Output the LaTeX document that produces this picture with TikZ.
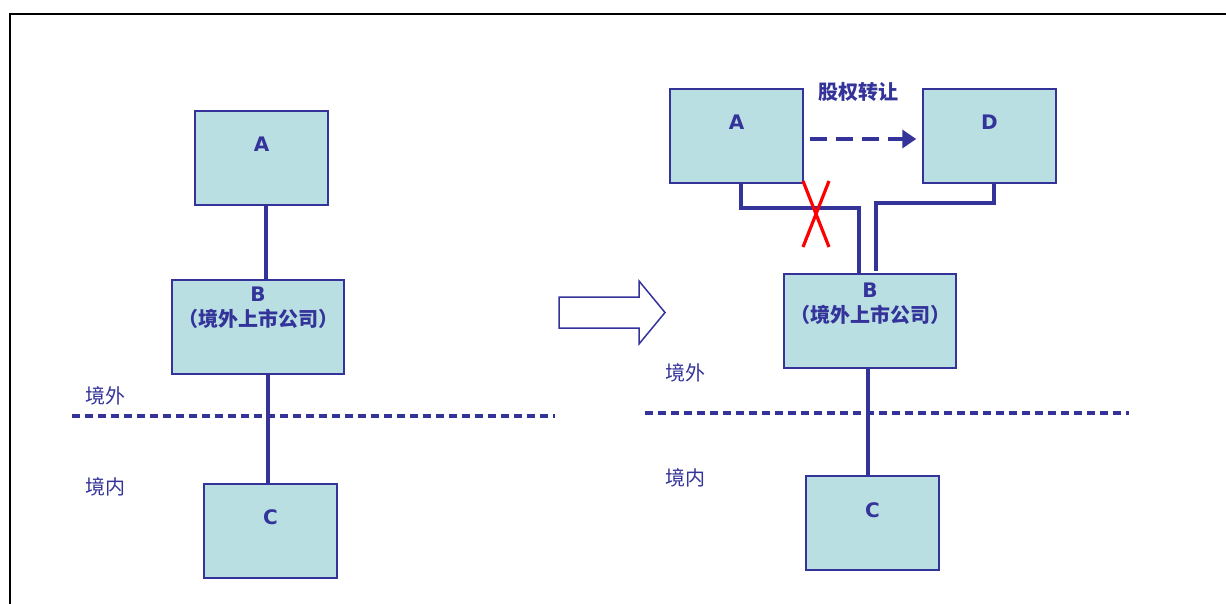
\documentclass[tikz,border=0pt]{standalone}
\usepackage{fontspec}
\newfontfamily\latfont{DejaVu Sans}
\newfontfamily\cjkfont{Noto Sans CJK SC}
\usetikzlibrary{arrows.meta, positioning}
\definecolor{boxblue}{RGB}{51,51,153}
\definecolor{boxfill}{RGB}{186,223,227}
\tikzstyle{entity} = [rectangle, minimum width=133pt, minimum height=94pt, inner sep=0pt, draw=boxblue, line width=1.5pt, fill=boxfill]
\tikzstyle{listed} = [entity, minimum width=172pt]
\tikzstyle{tag} = [inner sep=0pt, text=boxblue, font=\latfont\bfseries\fontsize{20}{24}\selectfont]
\tikzstyle{cntag} = [inner sep=0pt, align=center, text=boxblue, font=\cjkfont\bfseries\fontsize{20}{25}\selectfont]
\tikzstyle{zone} = [inner sep=0pt, text=boxblue, font=\cjkfont\fontsize{20}{24}\selectfont]
\tikzstyle{link} = [line width=4pt, draw=boxblue]
\tikzstyle{border} = [line width=3.2pt, draw=boxblue, dash pattern=on 8pt off 5pt]
\tikzstyle{transfer} = [line width=4pt, draw=boxblue, dash pattern=on 17pt off 9pt, -{Triangle[length=14pt,width=18pt]}]

\begin{document}
\begin{tikzpicture}[x=1pt, y=-1pt]
    \useasboundingbox (0,0) rectangle (1226,604);
    \draw[line width=2.2pt] (10,604) -- (10,14) -- (1226,14);

    % before
    \coordinate (lw) at (72,416);
    \coordinate (le) at (555,416);
    \draw[border] (lw) -- (le);
    \node[zone] (lout) at (105,396) {境外};
    \node[zone] (lin) at (105,487) {境内};

    \node[entity] (la) at (261.5,158) {};
    \node[tag, below=26pt of la.north] (latag) {A};
    \node[listed] (lb) at (258,327) {};
    \node[cntag, below=7pt of lb.north] (lbtag) {{\latfont B}\\（境外上市公司）};
    \node[entity] (lc) at (270.5,531) {};
    \node[tag, below=26pt of lc.north] (lctag) {C};

    \draw[link] ([xshift=4.5pt]la.south) -- ([xshift=4.5pt]la.south |- lb.north);
    \draw[link] ([xshift=10pt]lb.south) -- ([xshift=10pt]lb.south |- lc.north);

    \draw[draw=boxblue, line width=1.5pt, fill=white] (559,297) -- (639,297) -- (639,281) -- (665,312.5) -- (639,344) -- (639,328) -- (559,328) -- cycle;

    % after
    \coordinate (rw) at (645,413);
    \coordinate (re) at (1129,413);
    \draw[border] (rw) -- (re);
    \node[zone] (rout) at (685,373) {境外};
    \node[zone] (rin) at (685,478) {境内};

    \node[entity] (ra) at (736.5,136) {};
    \node[tag, below=26pt of ra.north] (ratag) {A};
    \node[entity] (rd) at (989.5,136) {};
    \node[tag, below=26pt of rd.north] (rdtag) {D};
    \node[cntag] (deal) at (858,92) {股权转让};
    \node[listed] (rb) at (870,321) {};
    \node[cntag, below=9pt of rb.north] (rbtag) {{\latfont B}\\（境外上市公司）};
    \node[entity] (rc) at (872.5,523) {};
    \node[tag, below=27pt of rc.north] (rctag) {C};

    \draw[transfer] ([xshift=6pt,yshift=-3pt]ra.east) -- ([xshift=-6pt,yshift=-3pt]rd.west);
    \draw[link] ([xshift=4.5pt]ra.south) -- ++(0,24) -| ([xshift=-11pt,yshift=-2pt]rb.north);
    \draw[link] ([xshift=4.5pt]rd.south) -- ++(0,19) -| ([xshift=6pt,yshift=2pt]rb.north);
    \draw[link] ([xshift=-2pt]rb.south) -- ([xshift=-2pt]rb.south |- rc.north);

    \coordinate (cut) at (816,214);
    \draw[red, line width=3.2pt] ([shift={(-13,-33)}]cut) -- ([shift={(13,33)}]cut) ([shift={(13,-33)}]cut) -- ([shift={(-13,33)}]cut);
\end{tikzpicture}
\end{document}
